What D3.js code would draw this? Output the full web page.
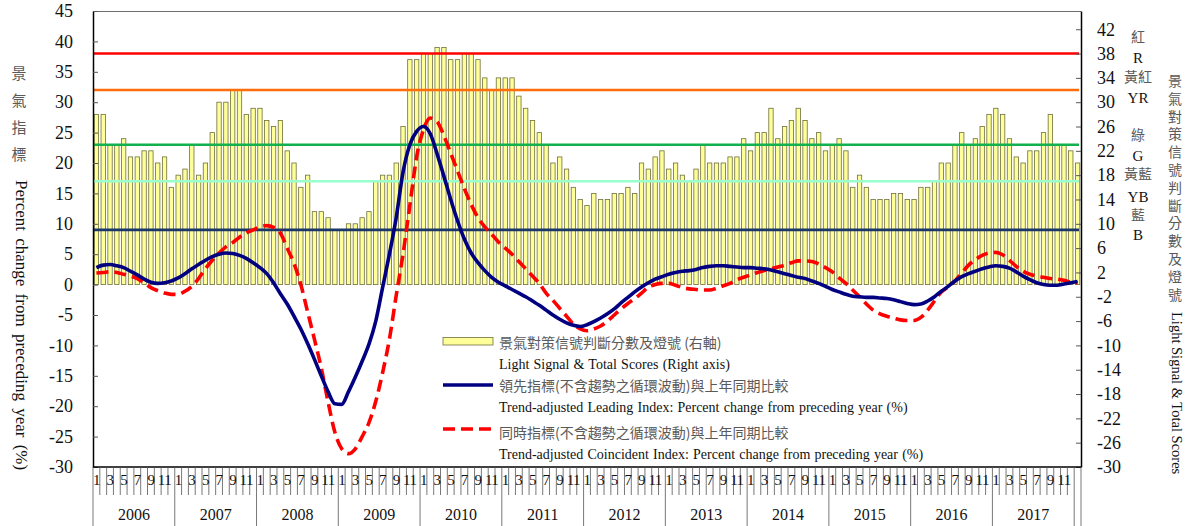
<!DOCTYPE html>
<html>
<head>
<meta charset="utf-8">
<script src="https://cdnjs.cloudflare.com/ajax/libs/d3/7.8.5/d3.min.js"></script>
<style>
  body { margin: 0; background: #fff; }
  svg { display: block; }
</style>
</head>
<body>
<div id="chart"></div>
<script>
// categories
var years = [2006, 2007, 2008, 2009, 2010, 2011, 2012, 2013, 2014, 2015, 2016, 2017, 2018];
var monthLabels = ["1", "", "3", "", "5", "", "7", "", "9", "", "11", ""];
var monthCount = 145; // Jan 2006 .. Jan 2018

// light signal total scores (right axis)
var scores = [
    28, 28, 23, 23, 24, 21, 21, 22, 22, 20, 21, 16,
    18, 19, 23, 18, 20, 25, 30, 30, 32, 32, 28, 29,
    29, 27, 26, 27, 22, 20, 16, 18, 12, 12, 11, 9,
    9, 10, 10, 11, 12, 17, 18, 18, 20, 26, 37, 37,
    38, 38, 39, 39, 37, 37, 38, 38, 37, 34, 32, 34,
    34, 34, 31, 29, 27, 25, 23, 20, 21, 19, 16, 14,
    13, 15, 14, 14, 15, 15, 16, 15, 20, 19, 21, 22,
    19, 20, 18, 17, 19, 23, 20, 20, 20, 21, 21, 24,
    22, 25, 25, 29, 24, 26, 27, 29, 27, 24, 25, 22,
    23, 24, 22, 16, 18, 16, 14, 14, 14, 15, 15, 14,
    14, 16, 16, 17, 20, 20, 23, 25, 23, 24, 26, 28,
    29, 28, 24, 21, 20, 22, 22, 25, 28, 23, 23, 22,
    20
];

// trend-adjusted leading index, % change from preceding year
var leading = [
    2.8, 3.2, 3.3, 3.1, 2.8, 2.2, 1.6, 0.9, 0.4, 0.2, 0.3, 0.6,
    1.1, 1.8, 2.6, 3.3, 4.0, 4.6, 5.0, 5.2, 5.1, 4.8, 4.3, 3.6,
    2.8, 1.8, 0.3, -1.5, -3.2, -5.2, -7.3, -9.7, -12.3, -15.0, -17.6, -19.6,
    -19.7, -17.6, -15.2, -12.6, -9.8, -6.0, -0.5, 5.0, 11.0, 18.5, 23.0, 25.2,
    26.0, 24.8, 21.5, 17.8, 14.0, 10.5, 7.5, 5.2, 3.6, 2.3, 1.2, 0.4,
    -0.2, -0.8, -1.4, -2.0, -2.7, -3.4, -4.2, -5.0, -5.7, -6.3, -6.7, -6.9,
    -6.6, -6.1, -5.5, -4.8, -4.0, -3.0, -2.1, -1.2, -0.4, 0.3, 0.9, 1.3,
    1.7, 2.0, 2.2, 2.3, 2.5, 2.8, 3.0, 3.1, 3.1, 3.0, 2.9, 2.8,
    2.8, 2.7, 2.6, 2.4, 2.1, 1.8, 1.5, 1.2, 1.0, 0.6, 0.2, -0.3,
    -0.8, -1.2, -1.6, -1.9, -2.0, -2.1, -2.1, -2.2, -2.3, -2.5, -2.8, -3.1,
    -3.3, -3.2, -2.7, -2.0, -1.1, -0.3, 0.6, 1.3, 1.8, 2.2, 2.6, 2.9,
    3.1, 3.0, 2.7, 2.1, 1.4, 0.8, 0.3, 0.0, -0.1, -0.1, 0.1, 0.3,
    0.5
];

// trend-adjusted coincident index, % change from preceding year
var coincident = [
    1.9, 2.0, 2.1, 2.0, 1.7, 1.4, 1.0, 0.3, -0.5, -1.0, -1.4, -1.6,
    -1.6, -1.1, -0.3, 1.0, 2.6, 4.0, 5.2, 6.2, 6.9, 7.8, 8.5, 9.0,
    9.5, 9.7, 9.4, 8.5, 6.0, 3.5, 0.0, -4.5, -9.0, -13.7, -19.3, -24.3,
    -27.0, -27.8, -27.0, -25.0, -22.7, -19.2, -14.5, -9.0, -1.8, 5.0, 13.0, 21.0,
    25.5, 27.4, 26.8, 24.5, 21.6, 18.7, 15.8, 13.2, 11.0, 9.5, 8.3, 7.0,
    6.0, 5.0, 3.8, 2.6, 1.4, 0.2, -1.4, -2.6, -3.9, -5.2, -6.5, -7.3,
    -7.6, -7.3, -6.8, -6.0, -5.0, -4.0, -3.1, -2.3, -1.4, -0.4, 0.0, 0.2,
    0.2, -0.1, -0.5, -0.7, -0.8, -0.9, -0.9, -0.6, -0.2, 0.2, 0.8, 1.2,
    1.6, 2.0, 2.3, 2.6, 2.9, 3.2, 3.6, 3.9, 3.9, 3.8, 3.4, 2.8,
    2.1, 1.1, 0.2, -0.9, -2.0, -3.2, -4.2, -4.8, -5.2, -5.5, -5.8, -5.9,
    -5.9, -5.4, -4.2, -2.7, -1.2, -0.4, 0.6, 1.9, 3.2, 4.1, 4.8, 5.2,
    5.3, 4.9, 4.0, 3.0, 2.2, 1.7, 1.4, 1.2, 1.0, 0.9, 0.7, 0.4,
    0.3
];

var leftTicks = [45, 40, 35, 30, 25, 20, 15, 10, 5, 0, -5, -10, -15, -20, -25, -30];
var rightTicks = [42, 38, 34, 30, 26, 22, 18, 14, 10, 6, 2, -2, -6, -10, -14, -18, -22, -26, -30];
var signalLevels = [38, 32, 23, 17, 9];
var signalZh = ["紅", "黃紅", "綠", "黃藍", "藍"];
var signalEn = ["R", "YR", "G", "YB", "B"];

var legendTexts = [
    "景氣對策信號判斷分數及燈號 (右軸)",
    "Light Signal & Total Scores (Right axis)",
    "領先指標(不含趨勢之循環波動)與上年同期比較",
    "Trend-adjusted Leading Index: Percent change from preceding year (%)",
    "同時指標(不含趨勢之循環波動)與上年同期比較",
    "Trend-adjusted Coincident Index: Percent change from preceding year (%)"
];

(function (selector) {
    var W = 1192, H = 526;
    var left = 93, right = 1081, top = 11, bottom = 467;
    var serif = "'Liberation Serif', 'Times New Roman', serif";
    var cjk = "'Noto Sans CJK TC', 'Noto Sans CJK SC', sans-serif";

    var svg = d3.select(selector).append("svg")
        .attr("width", W)
        .attr("height", H);

    var months = d3.range(monthCount);

    var x = d3.scaleBand()
        .domain(months)
        .range([left, right])
        .paddingInner(0.36)
        .paddingOuter(0.18);

    var xm = d3.scaleBand()
        .domain(months)
        .range([left, right]);

    var yL = d3.scaleLinear().domain([-30, 45]).range([bottom, top]);
    var yR = d3.scaleLinear().domain([-30, 45]).range([bottom, top]);

    // top border of plot area
    svg.append("line")
        .attr("x1", left).attr("x2", right)
        .attr("y1", top + 0.5).attr("y2", top + 0.5)
        .attr("stroke", "#6d6d6d").attr("stroke-width", 1);

    // bars
    svg.append("g")
        .selectAll("rect")
        .data(scores)
        .enter().append("rect")
        .attr("x", function (d, i) { return x(i); })
        .attr("y", function (d) { return yR(d); })
        .attr("width", x.bandwidth())
        .attr("height", function (d) { return yR(0) - yR(d); })
        .attr("fill", "#ffff99")
        .attr("stroke", "#6f6f3c")
        .attr("stroke-width", 0.8);

    // signal threshold lines
    var levelColors = ["#ff0000", "#ff6d0a", "#12b04f", "#99ffcc", "#1b3668"];
    svg.append("g")
        .selectAll("line")
        .data(signalLevels)
        .enter().append("line")
        .attr("x1", left + 1).attr("x2", right - 2)
        .attr("y1", function (d) { return yR(d); })
        .attr("y2", function (d) { return yR(d); })
        .attr("stroke", function (d, i) { return levelColors[i]; })
        .attr("stroke-width", 2.6);

    // index lines
    var line = function (arr) {
        return d3.line()
            .x(function (d, i) { return xm(i) + xm.bandwidth() / 2; })
            .y(function (d) { return yL(d); })
            .curve(d3.curveMonotoneX)(arr);
    };

    svg.append("path")
        .attr("d", line(coincident))
        .attr("fill", "none")
        .attr("stroke", "#ff0000")
        .attr("stroke-width", 3.6)
        .attr("stroke-dasharray", "12,6");

    svg.append("path")
        .attr("d", line(leading))
        .attr("fill", "none")
        .attr("stroke", "#000080")
        .attr("stroke-width", 3.6);

    // left axis
    var gl = svg.append("g")
        .attr("transform", "translate(" + left + ",0)")
        .call(d3.axisLeft(yL).tickValues(leftTicks).tickSize(-5).tickSizeOuter(0).tickPadding(20)
            .tickFormat(function (d) { return String(d); }));
    gl.select(".domain").attr("stroke", "#000").attr("stroke-width", 1.5);
    gl.selectAll(".tick line").attr("stroke", "#555");
    gl.selectAll("text").attr("font-family", serif).attr("font-size", 18).attr("fill", "#111");

    // right axis
    var gr = svg.append("g")
        .attr("transform", "translate(" + right + ",0)")
        .call(d3.axisRight(yR).tickValues(rightTicks).tickSize(-5).tickSizeOuter(0).tickPadding(16)
            .tickFormat(function (d) { return String(d); }));
    gr.select(".domain").attr("stroke", "#000").attr("stroke-width", 1.5);
    gr.selectAll(".tick line").attr("stroke", "#555");
    gr.selectAll("text").attr("font-family", serif).attr("font-size", 18).attr("fill", "#111");

    // bottom axis line
    svg.append("line")
        .attr("x1", left).attr("x2", right)
        .attr("y1", bottom).attr("y2", bottom)
        .attr("stroke", "#000").attr("stroke-width", 1.5);

    // month row
    var monthRowBottom = 495;
    var gx = svg.append("g");
    gx.selectAll("line.mtick")
        .data(d3.range(monthCount + 1))
        .enter().append("line")
        .attr("class", "mtick")
        .attr("x1", function (i) { return left + i * xm.step(); })
        .attr("x2", function (i) { return left + i * xm.step(); })
        .attr("y1", bottom)
        .attr("y2", function (i) { return (i % 12 === 0 || i === monthCount) ? H : monthRowBottom; })
        .attr("stroke", "#555")
        .attr("stroke-width", 0.8);

    gx.selectAll("text.mlab")
        .data(months.filter(function (i) { return i < 144; }))
        .enter().append("text")
        .attr("class", "mlab")
        .attr("x", function (i) { return xm(i) + xm.bandwidth() / 2; })
        .attr("y", 485)
        .attr("text-anchor", "middle")
        .attr("font-family", serif)
        .attr("font-size", 15)
        .attr("letter-spacing", -0.5)
        .attr("fill", "#111")
        .text(function (i) { return monthLabels[i % 12]; });

    gx.selectAll("text.ylab")
        .data(years.slice(0, 12))
        .enter().append("text")
        .attr("class", "ylab")
        .attr("x", function (d, k) { return left + (k * 12 + 6) * xm.step(); })
        .attr("y", 520)
        .attr("text-anchor", "middle")
        .attr("font-family", serif)
        .attr("font-size", 16)
        .attr("fill", "#111")
        .text(function (d) { return d; });

    // left title
    var zhLeft = "景氣指標".split("");
    svg.append("g").selectAll("text")
        .data(zhLeft)
        .enter().append("text")
        .attr("x", 19)
        .attr("y", function (d, i) { return 79 + i * 27; })
        .attr("text-anchor", "middle")
        .attr("font-family", cjk)
        .attr("font-size", 15)
        .attr("fill", "#5a5a5a")
        .text(function (d) { return d; });

    svg.append("text")
        .attr("transform", "translate(16,180) rotate(90)")
        .attr("font-family", serif)
        .attr("font-size", 17)
        .attr("word-spacing", 3)
        .attr("fill", "#111")
        .text("Percent change from preceding year (%)");

    // right title
    var zhRight = "景氣對策信號判斷分數及燈號".split("");
    svg.append("g").selectAll("text")
        .data(zhRight)
        .enter().append("text")
        .attr("x", 1175)
        .attr("y", function (d, i) { return 86 + i * 17.8; })
        .attr("text-anchor", "middle")
        .attr("font-family", cjk)
        .attr("font-size", 14)
        .attr("fill", "#5a5a5a")
        .text(function (d) { return d; });

    svg.append("text")
        .attr("transform", "translate(1172,312) rotate(90)")
        .attr("font-family", serif)
        .attr("font-size", 14.5)
        .attr("fill", "#111")
        .text("Light Signal & Total Scores");

    // signal labels beside right axis
    var zhY = [42, 82, 140, 179, 220];
    var enY = [63, 103, 161, 202, 240];
    svg.append("g").selectAll("text")
        .data(signalZh)
        .enter().append("text")
        .attr("x", 1138)
        .attr("y", function (d, i) { return zhY[i]; })
        .attr("text-anchor", "middle")
        .attr("font-family", cjk)
        .attr("font-size", 14)
        .attr("fill", "#5a5a5a")
        .text(function (d) { return d; });
    svg.append("g").selectAll("text")
        .data(signalEn)
        .enter().append("text")
        .attr("x", 1138)
        .attr("y", function (d, i) { return enY[i]; })
        .attr("text-anchor", "middle")
        .attr("font-family", serif)
        .attr("font-size", 15)
        .attr("fill", "#111")
        .text(function (d) { return d; });

    // legend
    var lg = svg.append("g");
    lg.append("rect")
        .attr("x", 443).attr("y", 337.5)
        .attr("width", 50).attr("height", 7.5)
        .attr("fill", "#ffff99")
        .attr("stroke", "#6f6f3c")
        .attr("stroke-width", 0.8);
    lg.append("line")
        .attr("x1", 443).attr("x2", 493)
        .attr("y1", 385).attr("y2", 385)
        .attr("stroke", "#000080").attr("stroke-width", 3.6);
    lg.append("line")
        .attr("x1", 443).attr("x2", 493)
        .attr("y1", 429).attr("y2", 429)
        .attr("stroke", "#ff0000").attr("stroke-width", 3.6)
        .attr("stroke-dasharray", "12,6");

    var legendY = [348, 369, 391, 412, 438, 459];
    lg.selectAll("text")
        .data(legendTexts)
        .enter().append("text")
        .attr("x", 499)
        .attr("y", function (d, i) { return legendY[i]; })
        .attr("font-family", function (d, i) { return i % 2 === 0 ? cjk : serif; })
        .attr("font-size", 14)
        .attr("word-spacing", function (d, i) { return i % 2 === 0 ? 0 : 0.7; })
        .attr("fill", function (d, i) { return i % 2 === 0 ? "#5a5a5a" : "#111"; })
        .text(function (d) { return d; });
})("#chart");
</script>
</body>
</html>
